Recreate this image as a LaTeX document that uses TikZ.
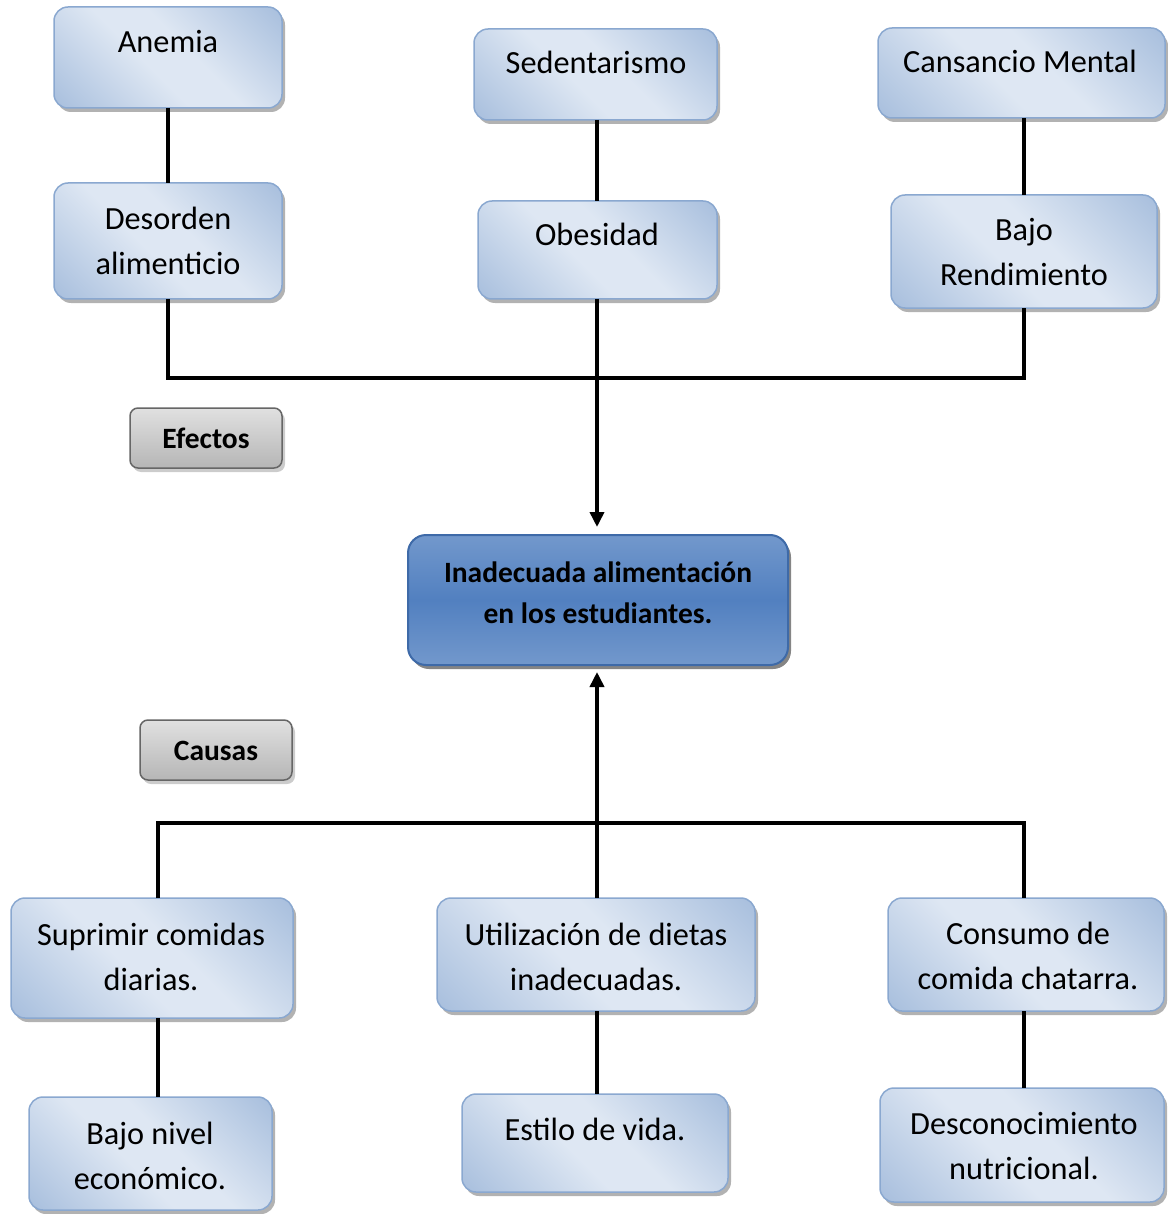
\documentclass[tikz,border=0pt]{standalone}
\usepackage{fontspec}
\setmainfont{Carlito}
\usetikzlibrary{arrows.meta,shadows,calc}
\definecolor{bdark}{RGB}{140,170,210}
\definecolor{blight}{RGB}{222,231,243}
\definecolor{bborder}{RGB}{138,168,208}
\definecolor{cdark}{RGB}{82,128,192}
\definecolor{clight}{RGB}{146,176,216}
\definecolor{cborder}{RGB}{62,106,168}
\definecolor{gdark}{RGB}{160,160,160}
\definecolor{glight}{RGB}{246,246,246}
\pgfdeclarehorizontalshading{lightblue}{100bp}{color(0bp)=(bdark); color(44bp)=(blight); color(56bp)=(blight); color(100bp)=(bdark)}
\pgfdeclareverticalshading{centerblue}{100bp}{color(0bp)=(clight); color(50bp)=(cdark); color(100bp)=(clight)}
\pgfdeclareverticalshading{graybox}{100bp}{color(0bp)=(gdark); color(100bp)=(glight)}
\tikzset{
  lbox/.style={draw=bborder, line width=1.5pt, rounded corners=14pt, shade, shading=lightblue, shading angle=45,
    inner sep=0pt, outer sep=0pt, drop shadow={shadow xshift=3pt, shadow yshift=-4pt, fill=black!60, opacity=0.5}},
  cbox/.style={draw=cborder, line width=2pt, rounded corners=18pt, shade, shading=centerblue,
    inner sep=0pt, outer sep=0pt, drop shadow={shadow xshift=3pt, shadow yshift=-4pt, fill=black!80, opacity=0.6}},
  gbox/.style={draw=black!60, line width=1.5pt, rounded corners=8pt, shade, shading=graybox,
    inner sep=0pt, outer sep=0pt, drop shadow={shadow xshift=3pt, shadow yshift=-4pt, fill=black!40, opacity=0.5}},
  txt/.style={font=\fontsize{32.3}{45}\selectfont, anchor=base, inner sep=0pt, align=center},
  btxt/.style={font=\fontsize{29.5}{41}\selectfont\bfseries, anchor=base, inner sep=0pt, align=center},
  conn/.style={line width=3.6pt, black},
  arr/.style={line width=3.6pt, black, -{Triangle[width=14pt,length=15pt]}},
}
\begin{document}
\begin{tikzpicture}[x=1pt,y=-1pt]
\useasboundingbox (0,0) rectangle (1167,1214);
% effects
\node[lbox, minimum width=228pt, minimum height=101pt] (anemia) at (168,57.5) {};
\node[lbox, minimum width=228pt, minimum height=116pt] (desorden) at (168,241) {};
\node[lbox, minimum width=243pt, minimum height=91pt] (sedent) at (595.5,74.5) {};
\node[lbox, minimum width=239pt, minimum height=98pt] (obesidad) at (597.5,250) {};
\node[lbox, minimum width=287pt, minimum height=90pt] (cansancio) at (1021.5,73) {};
\node[lbox, minimum width=266pt, minimum height=113pt] (bajorend) at (1024,251.5) {};
\node[gbox, minimum width=152pt, minimum height=60pt] (efectos) at (206,438) {};
% problem
\node[cbox, minimum width=380pt, minimum height=130pt] (problem) at (598,600) {};
% causes
\node[gbox, minimum width=152pt, minimum height=60pt] (causas) at (216,750) {};
\node[lbox, minimum width=282pt, minimum height=120pt] (suprimir) at (152,958) {};
\node[lbox, minimum width=243pt, minimum height=113pt] (bajonivel) at (150.5,1153.5) {};
\node[lbox, minimum width=318pt, minimum height=113pt] (utiliz) at (596,954.5) {};
\node[lbox, minimum width=266pt, minimum height=98pt] (estilo) at (595,1143) {};
\node[lbox, minimum width=276pt, minimum height=113pt] (consumo) at (1026,954.5) {};
\node[lbox, minimum width=284pt, minimum height=114pt] (descon) at (1022,1145) {};
% texts (base anchor = last line)
\node[txt] (t-anemia) at (168,53) {Anemia};
\node[txt] (t-desorden) at (168,275) {Desorden\\alimenticio};
\node[txt] (t-sedent) at (596,74) {Sedentarismo};
\node[txt] (t-obesidad) at (597,246) {Obesidad};
\node[txt] (t-cansancio) at (1020,73) {Cansancio Mental};
\node[txt] (t-bajorend) at (1024,286) {Bajo\\Rendimiento};
\node[btxt] (t-efectos) at (206,448) {Efectos};
\node[btxt] (t-problem) at (598,623) {Inadecuada alimentación\\en los estudiantes.};
\node[btxt] (t-causas) at (216,760) {Causas};
\node[txt] (t-suprimir) at (151,990) {Suprimir comidas\\diarias.};
\node[txt] (t-bajonivel) at (150,1189) {Bajo nivel\\económico.};
\node[txt] (t-utiliz) at (596,990) {Utilización de dietas\\inadecuadas.};
\node[txt] (t-estilo) at (595,1140) {Estilo de vida.};
\node[txt] (t-consumo) at (1028,989) {Consumo de\\comida chatarra.};
\node[txt] (t-descon) at (1024,1179) {Desconocimiento\\nutricional.};
% connectors, effects
\coordinate (cL) at (158,823);
\coordinate (cR) at (1024,823);
\coordinate (eL) at (168,378);
\coordinate (eR) at (1024,378);
\coordinate (xm) at (597,0);
\draw[conn] (anemia.south) -- (desorden.north);
\draw[conn] (xm |- sedent.south) -- (xm |- obesidad.north);
\draw[conn] (eR |- cansancio.south) -- (eR |- bajorend.north);
\draw[conn] (eL |- desorden.south) -- (eL) -- (eR) -- (eR |- bajorend.south);
\draw[arr, shorten >=8pt] (xm |- obesidad.south) -- (xm |- problem.north);
% connectors, causes
\draw[arr, shorten >=7pt] (xm |- utiliz.north) -- (xm |- problem.south);
\draw[conn] (cL |- suprimir.north) -- (cL) -- (cR) -- (cR |- consumo.north);
\draw[conn] (cL |- suprimir.south) -- (cL |- bajonivel.north);
\draw[conn] (xm |- utiliz.south) -- (xm |- estilo.north);
\draw[conn] (cR |- consumo.south) -- (cR |- descon.north);
\end{tikzpicture}
\end{document}
